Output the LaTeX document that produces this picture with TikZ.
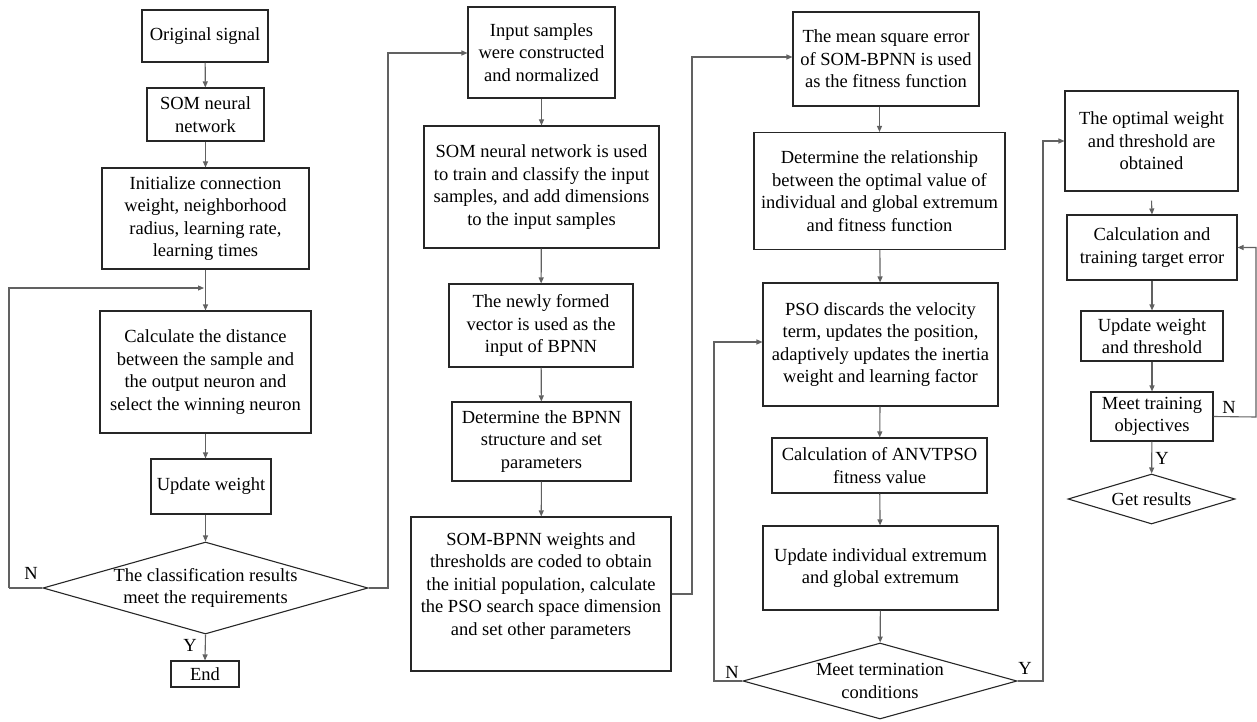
\documentclass[tikz,border=0pt]{standalone}
\usepackage{fontspec}
\setmainfont{Liberation Serif}
\usetikzlibrary{arrows.meta,shapes.geometric}
\newcommand{\fs}{\fontsize{18.5}{22.5}\selectfont}
\begin{document}
\begin{tikzpicture}[x=1pt,y=-1pt,
  box/.style={draw=black!85, line width=1.1pt, rectangle, align=center, inner sep=0pt, font=\fs},
  txt/.style={align=center, inner sep=0pt, font=\fs},
  dia/.style={draw=black!85, line width=1.1pt, diamond, inner sep=0pt},
  lab/.style={inner sep=0pt, font=\fs},
  arr/.style={draw=black!62, line width=1.1pt, -{Triangle[length=6pt,width=5pt]}},
  ln/.style={draw=black!62, line width=1.1pt}]
\useasboundingbox (0,0) rectangle (1257,722);
% column 1
\node[box, minimum width=126, minimum height=52] (o1) at (205,36) {Original signal};
\node[box, minimum width=117, minimum height=53] (o2) at (205.5,114.5) {SOM neural\\network};
\node[box, minimum width=207, minimum height=101] (o3) at (205.5,218.5) {Initialize connection\\weight, neighborhood\\radius, learning rate,\\learning times};
\node[box, minimum width=211, minimum height=122] (o4) at (205.5,372) {Calculate the distance\\between the sample and\\the output neuron and\\select the winning neuron};
\node[box, minimum width=120, minimum height=55] (o5) at (211,486.5) {Update weight};
\node[dia, minimum width=325, minimum height=92] (d1) at (205.5,588) {};
\node[txt] (d1t) at (205.5,588) {The classification results\\meet the requirements};
\node[box, minimum width=68, minimum height=26] (end) at (205,674) {End};
\coordinate (lp1) at (9,288);
\coordinate (lp1e) at (204,288);
\coordinate (rl1) at (388,53);
\node[lab] (n1) at (31,573) {N};
\node[lab] (y1) at (190,645) {Y};
% column 2
\node[box, minimum width=147, minimum height=91] (i1) at (541.5,52.5) {Input samples\\were constructed\\and normalized};
\node[box, minimum width=235, minimum height=122] (i2) at (541.5,187) {SOM neural network is used\\to train and classify the input\\samples, and add dimensions\\to the input samples};
\node[box, minimum width=184, minimum height=83] (i3) at (541,325.5) {The newly formed\\vector is used as the\\input of BPNN};
\node[box, minimum width=179, minimum height=79] (i4) at (541.5,441.5) {Determine the BPNN\\structure and set\\parameters};
\node[box, minimum width=260, minimum height=154] (i5) at (541,594) {};
\node[txt] (i5t) at (541,586) {SOM-BPNN weights and\\thresholds are coded to obtain\\the initial population, calculate\\the PSO search space dimension\\and set other parameters};
\coordinate (rl2) at (692,57);
% column 3
\node[box, minimum width=186, minimum height=94] (m1) at (886,59) {The mean square error\\of SOM-BPNN is used\\as the fitness function};
\node[box, minimum width=251, minimum height=117] (m2) at (879.5,191) {Determine the relationship\\between the optimal value of\\individual and global extremum\\and fitness function};
\node[box, minimum width=235, minimum height=123] (m3) at (880.5,344.5) {PSO discards the velocity\\term, updates the position,\\adaptively updates the inertia\\weight and learning factor};
\node[box, minimum width=215, minimum height=55] (m4) at (879.5,465.5) {Calculation of ANVTPSO\\fitness value};
\node[box, minimum width=235, minimum height=84] (m5) at (880.5,568) {Update individual extremum\\and global extremum};
\node[dia, minimum width=274, minimum height=76] (d2) at (880,681) {};
\node[txt] (d2t) at (880,681) {Meet termination\\conditions};
\coordinate (lp2) at (714,342);
\coordinate (rl3) at (1043,141);
\node[lab] (n2) at (732,672) {N};
\node[lab] (y2) at (1025,668) {Y};
% column 4
\node[box, minimum width=173, minimum height=100] (r1) at (1151.5,141) {The optimal weight\\and threshold are\\obtained};
\node[box, minimum width=170, minimum height=65] (r2) at (1152,247.5) {Calculation and\\training target error};
\node[box, minimum width=142, minimum height=50] (r3) at (1152,336) {Update weight\\and threshold};
\node[box, minimum width=122, minimum height=49] (r4) at (1152,416.5) {Meet training\\objectives};
\node[dia, minimum width=167, minimum height=50] (r5) at (1151.5,499) {};
\node[txt] (r5t) at (1151.5,499) {Get results};
\coordinate (lp3) at (1256,417);
\node[lab] (n3) at (1229,407) {N};
\node[lab] (y3) at (1162,458) {Y};
% connectors column 1
\draw[arr] (o1) -- (o2);
\draw[arr] (o2) -- (o3);
\draw[arr] (o3) -- (o4);
\draw[arr] (lp1 |- d1.west) -- (lp1) -- (lp1e);
\draw[ln] (d1.west) -- (lp1 |- d1.west);
\draw[arr] (o4.south) -- (o4.south |- o5.north);
\draw[arr] (o4.south |- o5.south) -- (d1.north);
\draw[arr] (d1.south) -- (end.north);
\draw[arr] (d1.east) -| (rl1) -- (rl1 -| i1.west);
% column 2
\draw[arr] (i1) -- (i2);
\draw[arr] (i2) -- (i3);
\draw[arr] (i3) -- (i4);
\draw[arr] (i4) -- (i5);
\draw[arr] (i5.east) -| (rl2) -- (rl2 -| m1.west);
% column 3
\draw[arr] (m1.south -| m2.north) -- (m2.north);
\draw[arr] (m2) -- (m3);
\draw[arr] (m3) -- (m4);
\draw[arr] (m4) -- (m5);
\draw[arr] (m5) -- (d2);
\draw[arr] (d2.west) -| (lp2) -- (lp2 -| m3.west);
\draw[arr] (d2.east) -| (rl3) -- (r1.west);
% column 4
\draw[arr] ([yshift=-9pt]r1.south) -- (r2.north);
\draw[arr] (r2) -- (r3);
\draw[arr] (r3) -- (r4);
\draw[arr] (r4) -- (r5);
\draw[arr] (r4.east) -- (lp3) |- (r2.east);
\end{tikzpicture}
\end{document}
